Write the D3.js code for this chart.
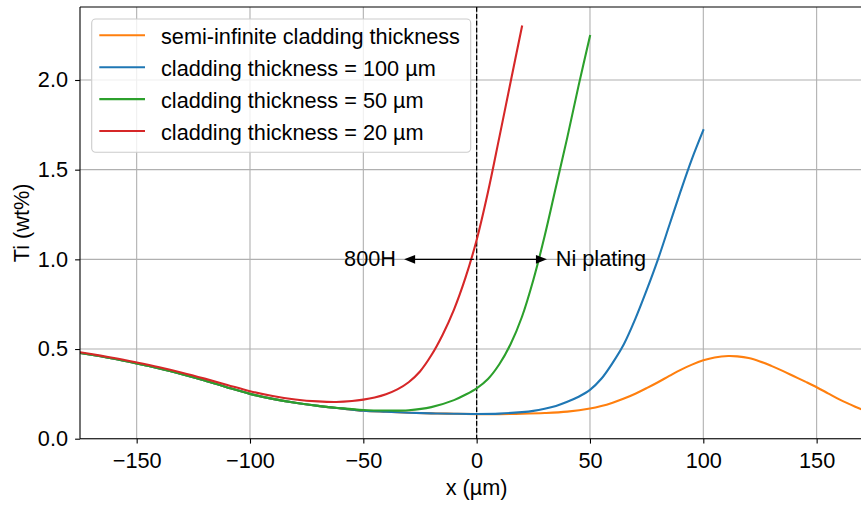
<!DOCTYPE html>
<html>
<head>
<meta charset="utf-8">
<script src="https://cdn.jsdelivr.net/npm/d3@7"></script>
<style>
  html, body { margin: 0; padding: 0; background: #fff; }
  svg { display: block; font-family: "Liberation Sans", Arial, sans-serif; }
</style>
</head>
<body>
<svg id="chart" width="861" height="505"></svg>
<script>
// Ti concentration profiles across the 800H / Ni plating interface (x = 0)

// semi-infinite cladding thickness
const semiX = [-175, -160, -150, -140, -130, -120, -110, -100, -90, -80, -70, -60, -50, -40, -30, -20, -10, 0,
  10, 20, 30, 40, 50, 55, 60, 65, 70, 75, 80, 85, 90, 95, 100, 105, 111, 115, 120, 125, 130, 135, 140, 145, 150, 155, 160, 165, 170];
const semiTi = [0.478, 0.446, 0.420, 0.392, 0.360, 0.325, 0.286, 0.250, 0.222, 0.200, 0.183, 0.169, 0.156, 0.150, 0.145, 0.141, 0.139, 0.137,
  0.137, 0.139, 0.143, 0.151, 0.168, 0.182, 0.201, 0.224, 0.251, 0.282, 0.315, 0.350, 0.384, 0.413, 0.437, 0.453, 0.461, 0.459, 0.450, 0.431, 0.406, 0.378, 0.348, 0.318, 0.287, 0.253, 0.219, 0.190, 0.162];

// cladding thickness = 100 µm
const t100X = [-175, -160, -150, -140, -130, -120, -110, -100, -90, -80, -70, -60, -50, -40, -30, -20, -10, 0,
  10, 20, 25, 30, 35, 40, 45, 50, 55, 60, 65, 70, 75, 80, 85, 90, 95, 100];
const t100Ti = [0.478, 0.446, 0.420, 0.392, 0.360, 0.325, 0.286, 0.250, 0.222, 0.200, 0.183, 0.169, 0.156, 0.150, 0.145, 0.141, 0.139, 0.138,
  0.140, 0.148, 0.155, 0.167, 0.183, 0.206, 0.234, 0.272, 0.334, 0.423, 0.528, 0.668, 0.828, 1.000, 1.190, 1.380, 1.560, 1.720];

// cladding thickness = 50 µm
const t50X = [-175, -160, -150, -140, -130, -120, -110, -100, -90, -80, -70, -60, -50, -40, -30, -20, -10, -5, 0,
  5, 10, 15, 20, 25, 30, 35, 40, 45, 50];
const t50Ti = [0.478, 0.446, 0.420, 0.392, 0.360, 0.325, 0.286, 0.250, 0.222, 0.200, 0.183, 0.170, 0.160, 0.157, 0.159, 0.176, 0.215, 0.245, 0.281,
  0.333, 0.415, 0.528, 0.680, 0.885, 1.130, 1.405, 1.680, 1.970, 2.245];

// cladding thickness = 20 µm
const t20X = [-175, -160, -150, -140, -130, -120, -110, -100, -90, -80, -70, -62, -55, -50, -45, -40, -35, -30, -25, -20, -15, -10, -5, 0,
  5, 10, 15, 20];
const t20Ti = [0.482, 0.450, 0.425, 0.398, 0.368, 0.335, 0.300, 0.265, 0.238, 0.219, 0.208, 0.205, 0.210, 0.218, 0.230, 0.248, 0.275, 0.315, 0.375, 0.465, 0.580, 0.720, 0.895, 1.108,
  1.375, 1.680, 1.990, 2.298];

const seriesNames = [
  "semi-infinite cladding thickness",
  "cladding thickness = 100 µm",
  "cladding thickness = 50 µm",
  "cladding thickness = 20 µm"
];
const seriesColors = ["#ff7f0e", "#1f77b4", "#2ca02c", "#d62728"];

const xTicks = [-150, -100, -50, 0, 50, 100, 150];
const yTicks = [0.0, 0.5, 1.0, 1.5, 2.0];

const xDomain = [-175, 175];
const yDomain = [0, 2.407];

const series = [
  { name: seriesNames[0], color: seriesColors[0], x: semiX, y: semiTi },
  { name: seriesNames[1], color: seriesColors[1], x: t100X, y: t100Ti },
  { name: seriesNames[2], color: seriesColors[2], x: t50X, y: t50Ti },
  { name: seriesNames[3], color: seriesColors[3], x: t20X, y: t20Ti }
];

const FS = 21.7;
const margin = { left: 80, top: 7, right: 873.3, bottom: 438.7 };

const svg = d3.select("#chart");
const x = d3.scaleLinear().domain(xDomain).range([margin.left, margin.right]);
const y = d3.scaleLinear().domain(yDomain).range([margin.bottom, margin.top]);

const minus = v => (v < 0 ? "\u2212" + Math.abs(v) : String(v));

// grid
const grid = svg.append("g");
grid.selectAll("line.gx").data(xTicks).join("line")
  .attr("x1", d => x(d)).attr("x2", d => x(d))
  .attr("y1", margin.top).attr("y2", margin.bottom)
  .attr("stroke", "#b0b0b0").attr("stroke-width", 1.1);
grid.selectAll("line.gy").data(yTicks).join("line")
  .attr("x1", margin.left).attr("x2", margin.right)
  .attr("y1", d => y(d)).attr("y2", d => y(d))
  .attr("stroke", "#b0b0b0").attr("stroke-width", 1.1);

// interface marker
svg.append("line")
  .attr("x1", x(0)).attr("x2", x(0))
  .attr("y1", margin.top).attr("y2", margin.bottom)
  .attr("stroke", "#000").attr("stroke-width", 1.3)
  .attr("stroke-dasharray", "4.8,2.1");

// curves
const line = d3.line().curve(d3.curveCatmullRom.alpha(0.5));
const clipId = "plotclip";
svg.append("clipPath").attr("id", clipId).append("rect")
  .attr("x", margin.left).attr("y", margin.top)
  .attr("width", margin.right - margin.left).attr("height", margin.bottom - margin.top);
const curves = svg.append("g").attr("clip-path", `url(#${clipId})`);
series.forEach(s => {
  curves.append("path")
    .attr("d", line(s.x.map((v, i) => [x(v), y(s.y[i])])))
    .attr("fill", "none")
    .attr("stroke", s.color)
    .attr("stroke-width", 2.1)
    .attr("stroke-linejoin", "round")
    .attr("stroke-linecap", "square");
});

// annotation arrows
const annotations = [
  { label: "800H", tip: -32, text: -35.6, anchor: "end" },
  { label: "Ni plating", tip: 31, text: 34.9, anchor: "start" }
];
const annY = 1.0;
annotations.forEach(a => {
  const dir = Math.sign(a.tip);
  const x0 = x(0) + dir * 2.8;
  const xt = x(a.tip);
  const yy = y(annY);
  svg.append("line")
    .attr("x1", x0).attr("x2", xt - dir * 8)
    .attr("y1", yy).attr("y2", yy)
    .attr("stroke", "#000").attr("stroke-width", 1.3);
  svg.append("path")
    .attr("d", `M${xt},${yy} L${xt - dir * 11},${yy - 4.3} L${xt - dir * 11},${yy + 4.3} Z`)
    .attr("fill", "#000");
  svg.append("text")
    .attr("x", x(a.text)).attr("y", yy + 6.3)
    .attr("text-anchor", a.anchor)
    .attr("font-size", FS)
    .text(a.label);
});

// axes
const xAxis = d3.axisBottom(x).tickValues(xTicks).tickFormat(minus).tickSize(4.9).tickPadding(9.2);
const yAxis = d3.axisLeft(y).tickValues(yTicks).tickFormat(d3.format(".1f")).tickSize(4.9).tickPadding(7.1);

const gx = svg.append("g").attr("transform", `translate(0,${margin.bottom})`).call(xAxis);
const gy = svg.append("g").attr("transform", `translate(${margin.left},0)`).call(yAxis);
[gx, gy].forEach(g => {
  g.select(".domain").remove();
  g.selectAll(".tick line").attr("stroke", "#000").attr("stroke-width", 1.1);
  g.selectAll(".tick text").attr("font-size", FS).attr("fill", "#000")
    .attr("font-family", "'Liberation Sans', Arial, sans-serif");
});

// spines
const sp = svg.append("g").attr("stroke", "#000").attr("stroke-width", 1.1);
sp.append("line").attr("x1", margin.left).attr("x2", margin.right).attr("y1", margin.bottom).attr("y2", margin.bottom);
sp.append("line").attr("x1", margin.left).attr("x2", margin.right).attr("y1", margin.top).attr("y2", margin.top);
sp.append("line").attr("x1", margin.left).attr("x2", margin.left).attr("y1", margin.top).attr("y2", margin.bottom);
sp.append("line").attr("x1", margin.right).attr("x2", margin.right).attr("y1", margin.top).attr("y2", margin.bottom);

// axis labels
svg.append("text")
  .attr("x", (margin.left + margin.right) / 2).attr("y", 495)
  .attr("text-anchor", "middle").attr("font-size", FS)
  .text("x (µm)");
svg.append("text")
  .attr("transform", `translate(29.3,${(margin.top + margin.bottom) / 2}) rotate(-90)`)
  .attr("text-anchor", "middle").attr("font-size", FS)
  .text("Ti (wt%)");

// legend
const leg = svg.append("g");
leg.append("rect")
  .attr("x", 91.7).attr("y", 19).attr("width", 379).attr("height", 133.3)
  .attr("rx", 4).attr("ry", 4)
  .attr("fill", "#fff").attr("fill-opacity", 0.8)
  .attr("stroke", "#cccccc").attr("stroke-width", 1.1);
series.forEach((s, i) => {
  const ry = 35.3 + i * 31.9;
  leg.append("line")
    .attr("x1", 99.3).attr("x2", 145)
    .attr("y1", ry).attr("y2", ry)
    .attr("stroke", s.color).attr("stroke-width", 2.1);
  leg.append("text")
    .attr("x", 161).attr("y", ry + 8.7)
    .attr("font-size", FS)
    .text(s.name);
});
</script>
</body>
</html>
